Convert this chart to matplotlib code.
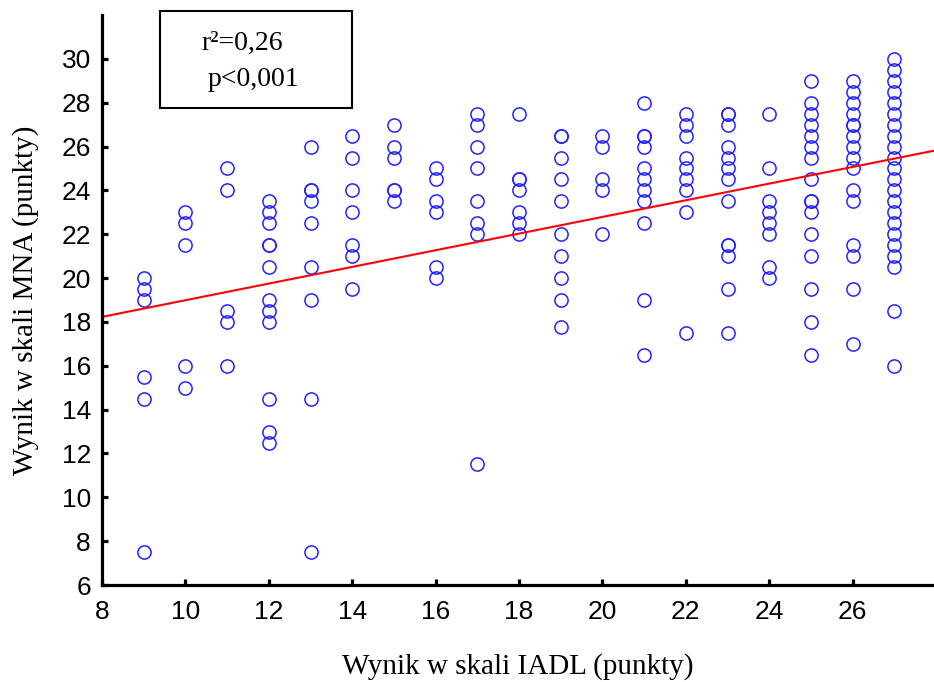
import numpy as np
import matplotlib
matplotlib.use("Agg")
import matplotlib.pyplot as plt
from matplotlib.patches import Rectangle

# IADL score (x) and MNA score (y) for each patient, grouped by IADL value
iadl_9 = [20, 19.5, 19, 15.5, 14.5, 7.5]
iadl_10 = [23, 22.5, 21.5, 16, 15]
iadl_11 = [25, 24, 18.5, 18, 16]
iadl_12 = [23.5, 23, 22.5, 21.5, 21.5, 20.5, 19, 18.5, 18, 14.5, 13, 12.5]
iadl_13 = [26, 24, 24, 23.5, 22.5, 20.5, 19, 14.5, 7.5]
iadl_14 = [26.5, 25.5, 24, 23, 21.5, 21, 19.5]
iadl_15 = [27, 26, 25.5, 24, 24, 23.5]
iadl_16 = [25, 24.5, 23.5, 23, 20.5, 20]
iadl_17 = [27.5, 27, 26, 25, 23.5, 22.5, 22, 11.5]
iadl_18 = [27.5, 24.5, 24.5, 24, 23, 22.5, 22]
iadl_19 = [26.5, 26.5, 25.5, 24.5, 23.5, 22, 21, 20, 19, 17.75]
iadl_20 = [26.5, 26, 24.5, 24, 22]
iadl_21 = [28, 26.5, 26.5, 26, 25, 24.5, 24, 23.5, 22.5, 19, 16.5]
iadl_22 = [27.5, 27, 26.5, 25.5, 25, 24.5, 24, 23, 17.5]
iadl_23 = [27.5, 27.5, 27, 26, 25.5, 25, 24.5, 23.5, 21.5, 21.5, 21, 19.5, 17.5]
iadl_24 = [27.5, 25, 23.5, 23, 22.5, 22, 20.5, 20]
iadl_25 = [29, 28, 27.5, 27, 26.5, 26, 25.5, 24.5, 23.5, 23.5, 23, 22, 21,
           19.5, 18, 16.5]
iadl_26 = [29, 28.5, 28, 27.5, 27, 27, 26.5, 26, 25.5, 25, 24, 23.5, 21.5,
           21, 19.5, 17]
iadl_27 = [30, 29.5, 29, 28.5, 28, 27.5, 27, 26.5, 26, 25.5, 25, 24.5, 24,
           23.5, 23, 22.5, 22, 21.5, 21, 20.5, 18.5, 16]

groups = {9: iadl_9, 10: iadl_10, 11: iadl_11, 12: iadl_12, 13: iadl_13,
          14: iadl_14, 15: iadl_15, 16: iadl_16, 17: iadl_17, 18: iadl_18,
          19: iadl_19, 20: iadl_20, 21: iadl_21, 22: iadl_22, 23: iadl_23,
          24: iadl_24, 25: iadl_25, 26: iadl_26, 27: iadl_27}

# fitted regression line (MNA = a + b * IADL)
fit_intercept = 15.19
fit_slope = 0.38

x = np.concatenate([[k] * len(v) for k, v in groups.items()]).astype(float)
y = np.concatenate([v for v in groups.values()]).astype(float)

fig = plt.figure(figsize=(9.34, 6.82), dpi=100)
ax = fig.add_axes([0.1092, 0.1422, 0.8908, 0.8358])

ax.plot(x, y, 'o', mfc='none', mec='#2323ff', ms=9.5, mew=1.1)
xl = np.array([8, 28])
ax.plot(xl, fit_intercept + fit_slope * xl, color='#ff0000', lw=1.5)

ax.set_xlim(8, 27.95)
ax.set_ylim(6, 32)
ax.set_xticks(np.arange(8, 27, 2))
ax.set_yticks(np.arange(6, 31, 2))

for s in ['top', 'right']:
    ax.spines[s].set_visible(False)
for s in ['left', 'bottom']:
    ax.spines[s].set_linewidth(2.3)

ax.tick_params(direction='in', length=4.5, width=2.3, labelsize=19)
ax.tick_params(axis='x', pad=11)
ax.tick_params(axis='y', pad=8)
for lab in ax.get_xticklabels() + ax.get_yticklabels():
    lab.set_family(['Liberation Sans Narrow', 'Liberation Sans'])

ax.set_xlabel('Wynik w skali IADL (punkty)', family='Liberation Serif',
              fontsize=21, labelpad=21)
ax.set_ylabel('Wynik w skali MNA (punkty)', family='Liberation Serif',
              fontsize=21, labelpad=16)

# stats box
fig.patches.append(Rectangle((0.1713, 0.8416), 0.2056, 0.1422,
                             transform=fig.transFigure, fill=False,
                             lw=1.5, ec='black'))
fig.text(0.259, 0.937, 'r²=0,26', family='Liberation Serif', fontsize=20,
         ha='center', va='center')
fig.text(0.271, 0.883, 'p<0,001', family='Liberation Serif', fontsize=20,
         ha='center', va='center')

fig.savefig('out.png', dpi=100)
